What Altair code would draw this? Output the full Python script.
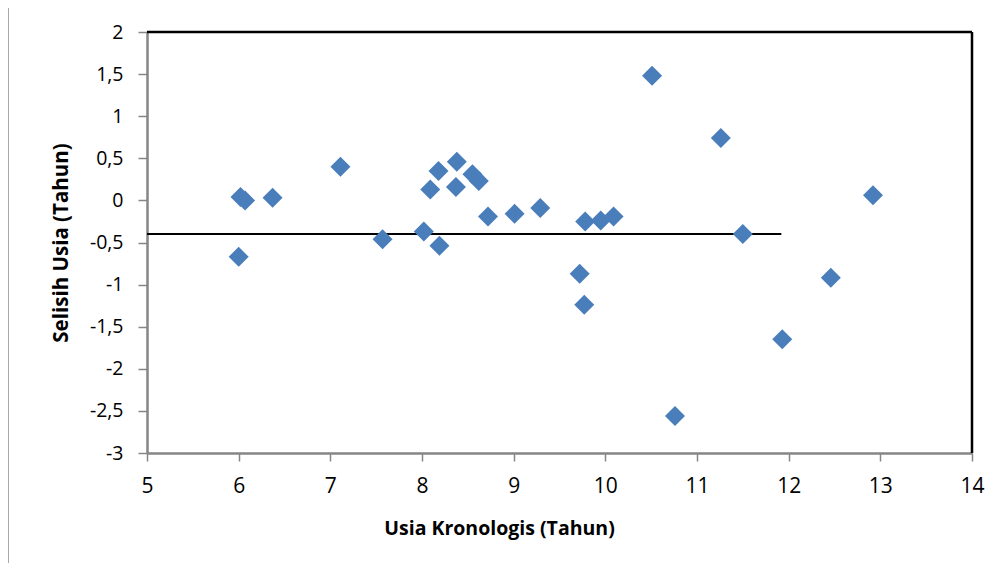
import altair as alt
import pandas as pd

usia_kronologis = [6.02, 6.07, 6.37, 6.00, 7.11, 7.57, 8.02, 8.19, 8.09, 8.18,
                   8.38, 8.37, 8.55, 8.62, 8.72, 9.01, 9.29, 10.51, 11.26, 12.92,
                   9.78, 9.95, 10.09, 11.50, 9.72, 12.46, 9.77, 11.93, 10.76]
selisih_usia = [0.04, 0.00, 0.03, -0.67, 0.40, -0.46, -0.37, -0.54, 0.13, 0.35,
                0.46, 0.16, 0.31, 0.23, -0.19, -0.16, -0.09, 1.48, 0.74, 0.06,
                -0.25, -0.24, -0.19, -0.40, -0.87, -0.92, -1.24, -1.65, -2.56]

mean_line_x = [5.0, 11.92]
mean_line_y = [-0.40, -0.40]

df = pd.DataFrame({"x": usia_kronologis, "y": selisih_usia})
line_df = pd.DataFrame({"x": [mean_line_x[0]], "x2": [mean_line_x[1]], "y": [mean_line_y[0]]})

FONT = "Open Sans"

xscale = alt.Scale(domain=[5, 14], nice=False, zero=False)
yscale = alt.Scale(domain=[-3, 2], nice=False, zero=False)

points = alt.Chart(df).mark_point(
    shape="diamond", filled=True, size=400, color="#4a7ebb", opacity=1
).encode(
    x=alt.X("x:Q", scale=xscale, axis=alt.Axis(
        title="Usia Kronologis (Tahun)", values=list(range(5, 15)), format="d",
        grid=False, domainColor="#868686", domainWidth=2.5, tickColor="#868686",
        tickWidth=1.5, tickSize=8, labelFontSize=21, labelPadding=14,
        labelColor="black", labelFont=FONT, titleFont=FONT, titleFontSize=19.5,
        titleFontWeight="bold", titleColor="black", titleX=352, titleY=81,
        titleBaseline="alphabetic", titleAnchor="middle", labelFlush=False)),
    y=alt.Y("y:Q", scale=yscale, axis=alt.Axis(
        title="Selisih Usia (Tahun)", values=[2, 1.5, 1, 0.5, 0, -0.5, -1, -1.5, -2, -2.5, -3],
        labelExpr="replace(toString(datum.value), '.', ',')",
        grid=False, domainColor="#868686", domainWidth=2.5, tickColor="#868686",
        tickWidth=1.5, tickSize=9, labelFontSize=19.5, labelPadding=15,
        labelColor="black", labelFont=FONT, titleFont=FONT, titleFontSize=20.5,
        titleFontWeight="bold", titleColor="black", titleX=-80, titleBaseline="alphabetic",
        labelFlush=False)),
)

mean_rule = alt.Chart(line_df).mark_rule(color="black", strokeWidth=2).encode(
    x=alt.X("x:Q", scale=xscale), x2="x2:Q", y=alt.Y("y:Q", scale=yscale)
)

frame_top = alt.Chart(line_df).mark_rule(color="black", strokeWidth=2.5).encode(
    x=alt.value(0), x2=alt.value(825), y=alt.value(0)
)
frame_right = alt.Chart(line_df).mark_rule(color="black", strokeWidth=2.5).encode(
    x=alt.value(825), y=alt.value(0), y2=alt.value(421)
)
outer_left = alt.Chart(line_df).mark_rule(color="#8c8c8c", strokeWidth=1.5).encode(
    x=alt.value(-139), y=alt.value(-27), y2=alt.value(540)
)
outer_top = alt.Chart(line_df).mark_rule(color="#d9d9d9", strokeWidth=1).encode(
    x=alt.value(-139), x2=alt.value(860), y=alt.value(-27)
)

chart = alt.layer(outer_left, outer_top, frame_top, frame_right, mean_rule, points).properties(
    width=825, height=421,
    autosize=alt.AutoSizeParams(type="none"),
    padding={"left": 139, "top": 24, "right": 18, "bottom": 110},
).configure_view(stroke=None).configure(background="white")

chart.save("out.html", embed_options={"renderer": "svg", "actions": False})
